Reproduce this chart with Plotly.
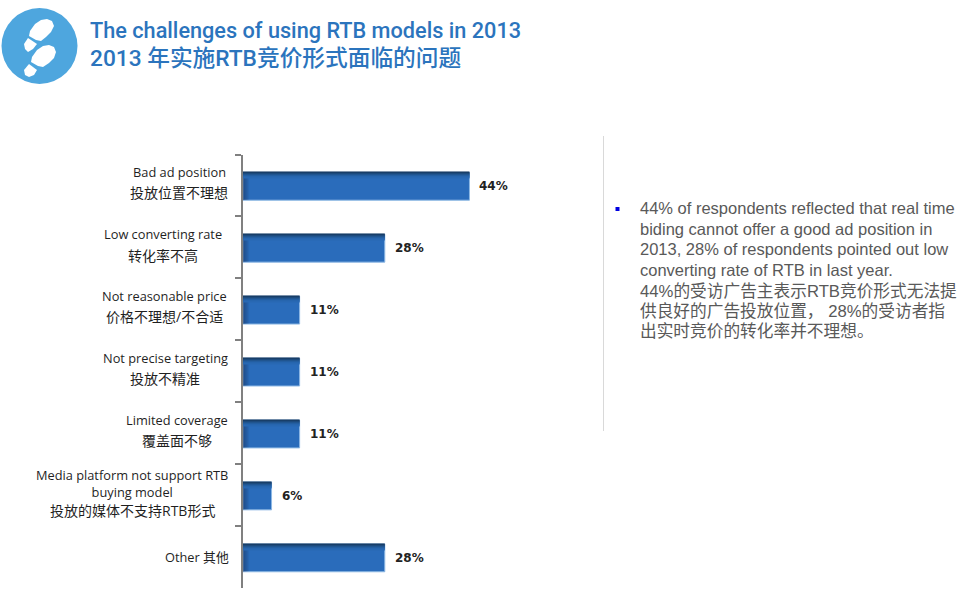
import plotly.graph_objects as go

# ---------- data ----------
categories = ["Bad ad position", "Low converting rate", "Not reasonable price",
              "Not precise targeting", "Limited coverage",
              "Media platform not support RTB buying model", "Other"]
values = [44.4, 27.8, 11.1, 11.1, 11.1, 5.6, 27.8]
label_lines = [
    ["Bad ad position", "投放位置不理想"],
    ["Low converting rate", "转化率不高"],
    ["Not reasonable price", "价格不理想/不合适"],
    ["Not precise targeting", "投放不精准"],
    ["Limited coverage", "覆盖面不够"],
    ["Media platform not support RTB<br>buying model", "投放的媒体不支持RTB形式"],
    ["Other 其他"],
]
title_lines = ["The challenges of using RTB models in 2013",
               "2013 年实施RTB竞价形式面临的问题"]
note_lines = ["44% of respondents reflected that real time",
              "biding cannot offer a good ad position in",
              "2013, 28% of respondents pointed out low",
              "converting rate of RTB in last year.",
              "44%的受访广告主表示RTB竞价形式无法提",
              "供良好的广告投放位置， 28%的受访者指",
              "出实时竞价的转化率并不理想。"]

# ---------- layout helpers ----------
W, H = 969, 593
def px(x): return x / W
def py(y): return 1 - y / H

LATIN = "Liberation Sans, Noto Sans CJK SC"
TITLE = "Roboto, Noto Sans CJK SC"
LABEL = "Open Sans, Noto Sans CJK SC"
centers = [179, 163, 164, 165, 177, 132, 197]
line_offsets = [[-13, 7], [-13, 8], [-13, 7], [-13, 7], [-13, 7], [-12, 15], [0]]
note_y = [208, 229, 249, 270, 291, 311, 332]
note_size = [16.5, 16.5, 16.5, 16.5, 16.7, 16.7, 16.7]
title_size = [21.7, 22.7]

fig = go.Figure()

# main bars
fig.add_bar(y=categories, x=values, orientation="h", width=0.45, offset=-0.212,
            marker=dict(color="#2a6cbb", line=dict(color="#8db8e4", width=1)),
            hovertemplate="%{y}: %{x:.0f}%<extra></extra>", showlegend=False)

# left shading of each bar
for w in [0.2, 0.4, 0.6, 0.8, 1.0, 1.2]:
    fig.add_bar(y=categories, x=[w] * len(values), orientation="h", width=0.44, offset=-0.207,
                marker=dict(color="rgba(10,30,60,0.07)", line=dict(width=0)),
                hoverinfo="skip", showlegend=False)

# top shading of each bar
top_cols = ["#17395f", "#1b4473", "#1f5087", "#225b9a", "#2563a8", "#2868b3"]
for i, c in enumerate(top_cols):
    fig.add_bar(y=categories, x=values, orientation="h", width=0.02,
                offset=-0.212 + i * 0.016,
                marker=dict(color=c, line=dict(width=0)),
                hoverinfo="skip", showlegend=False)

ann = []
# value labels
for cat, v in zip(categories, values):
    ann.append(dict(x=v, y=cat, xref="x", yref="y", text=f"{round(v)}%", showarrow=False,
                    xanchor="left", xshift=8, yshift=-1,
                    font=dict(family="DejaVu Sans", size=12, color="#222222", weight="bold")))
# category labels
for cat, lines, offs, cx in zip(categories, label_lines, line_offsets, centers):
    for line, off in zip(lines, offs):
        only_cjk = ord(line[0]) > 0x2E80
        ann.append(dict(x=px(cx), y=cat, xref="paper", yref="y", text=line, showarrow=False,
                        xanchor="center", yanchor="middle", yshift=-off, align="center",
                        font=dict(family=LABEL, size=14 if only_cjk else 12.8, color="#1f1f1f")))
# title
for line, y, s in zip(title_lines, [30, 58], title_size):
    ann.append(dict(x=px(88), y=py(y), xref="paper", yref="paper", text=line, showarrow=False,
                    xanchor="left", yanchor="middle",
                    font=dict(family=TITLE, size=s, color="#2b74bd", weight=500)))
# note
for line, y, s in zip(note_lines, note_y, note_size):
    ann.append(dict(x=px(638), y=py(y), xref="paper", yref="paper", text=line, showarrow=False,
                    xanchor="left", yanchor="middle",
                    font=dict(family=LATIN, size=s, color="#595959")))

def rect(x0, y0, x1, y1, color):
    return dict(type="rect", xref="paper", yref="paper", x0=px(x0), x1=px(x1), y0=py(y0), y1=py(y1),
                fillcolor=color, line=dict(width=0), layer="above")

def ell(cx, cy, rx, ry, color="white"):
    return dict(type="circle", xref="paper", yref="paper", x0=px(cx - rx), x1=px(cx + rx),
                y0=py(cy - ry), y1=py(cy + ry), fillcolor=color, line=dict(width=0), layer="above")

def path(points, color="white"):
    d = "M " + " L ".join(f"{px(x):.5f},{py(y):.5f}" for x, y in points) + " Z"
    return dict(type="path", xref="paper", yref="paper", path=d, fillcolor=color,
                line=dict(width=0), layer="above")

shapes = [
    ell(39.5, 46, 38, 38, "#4ea6de"),
    # upper print sole + heel
    path([(47, 19), (52, 21), (54, 26), (51, 32), (46, 37), (41, 41), (36, 40), (29, 36), (30, 31), (35, 24), (41, 20)]),
    path([(28, 38), (37, 44), (33, 49), (28, 52), (25, 49), (24, 44)]),
    # lower print sole + heel
    path([(49, 45), (54, 47), (56, 52), (54, 58), (49, 63), (43, 67), (38, 66), (31, 62), (32, 57), (37, 50), (43, 46)]),
    path([(29, 64), (37, 70), (34, 75), (29, 77), (25, 75), (24, 70)]),
    # divider and bullet
    dict(type="line", xref="paper", yref="paper", x0=px(603.5), x1=px(603.5), y0=py(136), y1=py(431),
         line=dict(color="#d9d9d9", width=1)),
    rect(615.5, 207, 619.5, 211, "#0000e0"),
]

fig.update_layout(
    width=W, height=H, autosize=False,
    margin=dict(l=0, r=0, t=0, b=0),
    paper_bgcolor="white", plot_bgcolor="white",
    barmode="overlay", showlegend=False,
    annotations=ann, shapes=shapes,
    xaxis=dict(domain=[px(243), px(497)], range=[0, 49.8], visible=False, fixedrange=True),
    yaxis=dict(domain=[py(588), py(154.5)], type="category", categoryorder="array",
               categoryarray=categories, range=[6.5, -0.5], tickson="boundaries",
               ticks="outside", ticklen=6, tickcolor="#808080", tickwidth=1.5,
               showticklabels=False, showline=True, linecolor="#808080", linewidth=1.5,
               showgrid=False, zeroline=False, fixedrange=True),
)

fig.write_html("out.html", config={"displayModeBar": False, "responsive": False},
               post_script="document.body.style.margin='0';document.documentElement.style.overflow='hidden';")
